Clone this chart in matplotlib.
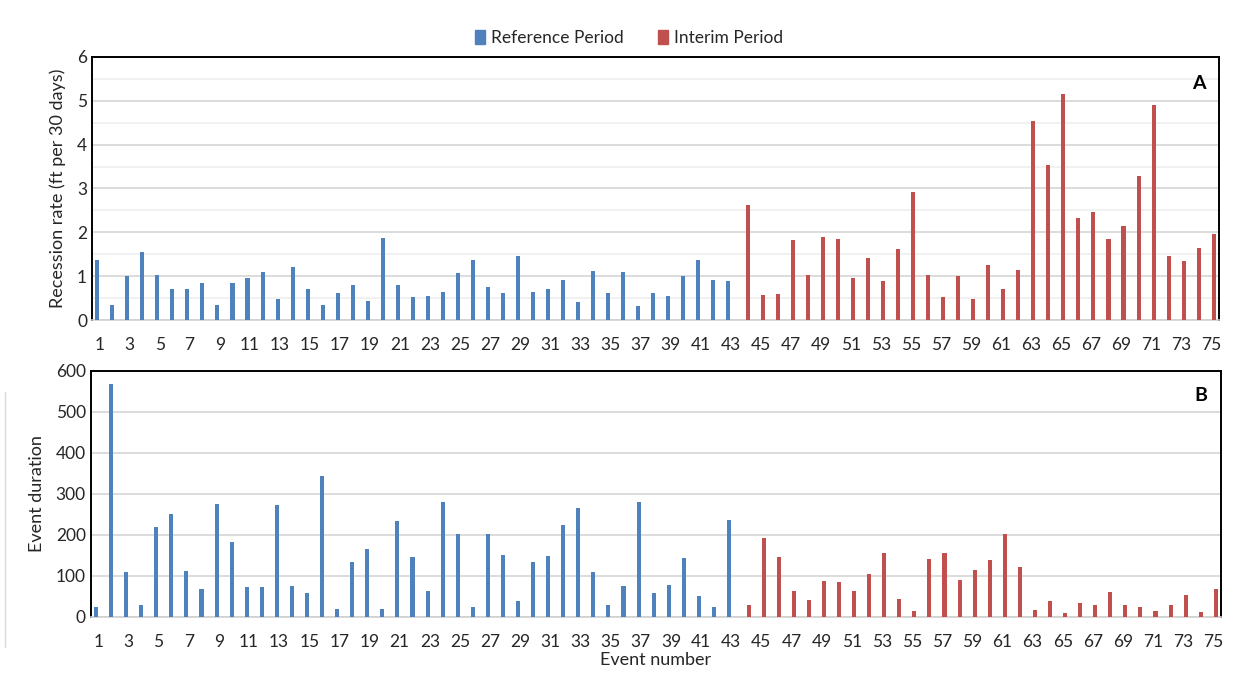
import matplotlib.pyplot as plt
import numpy as np
from matplotlib.lines import Line2D
from matplotlib.patches import Patch

plt.rcParams['font.family'] = ['Lato', 'DejaVu Sans']

# event numbers, split by period
ref_events = list(range(1, 44))
int_events = list(range(44, 76))

# recession rate (ft per 30 days)
ref_rate = [1.37, 0.35, 1.00, 1.55, 1.02, 0.70, 0.70, 0.85, 0.35, 0.85,
            0.95, 1.10, 0.48, 1.22, 0.70, 0.35, 0.62, 0.80, 0.43, 1.87,
            0.80, 0.53, 0.55, 0.65, 1.08, 1.37, 0.75, 0.62, 1.47, 0.65,
            0.70, 0.92, 0.40, 1.12, 0.62, 1.10, 0.32, 0.62, 0.55, 1.00,
            1.37, 0.92, 0.88]
int_rate = [2.62, 0.58, 0.60, 1.82, 1.02, 1.89, 1.85, 0.95, 1.42, 0.90,
            1.62, 2.92, 1.02, 0.52, 1.00, 0.48, 1.25, 0.70, 1.15, 4.55,
            3.54, 5.15, 2.32, 2.47, 1.85, 2.15, 3.28, 4.90, 1.45, 1.35,
            1.65, 1.97]

# event duration
ref_dur = [24, 568, 109, 28, 220, 251, 112, 69, 275, 183,
           72, 72, 273, 75, 59, 344, 20, 133, 165, 20,
           233, 146, 64, 281, 202, 24, 202, 151, 38, 133,
           149, 225, 265, 109, 30, 75, 281, 59, 78, 144,
           51, 24, 236]
int_dur = [28, 193, 146, 64, 41, 88, 86, 64, 104, 157,
           43, 14, 141, 157, 91, 114, 139, 202, 122, 17,
           38, 9, 33, 30, 60, 30, 24, 14, 28, 54,
           11, 69]

blue = '#4F81BD'
red = '#C0504D'
bar_w = 0.27
off = 0.15

fig = plt.figure(figsize=(12.38, 6.78), dpi=100)
ax_a = fig.add_axes([0.0743, 0.528, 0.9103, 0.388])
ax_b = fig.add_axes([0.0733, 0.0900, 0.9130, 0.3630])

ref_x = np.array(ref_events) - off
int_x = np.array(int_events) + off

ax_a.bar(ref_x, ref_rate, width=bar_w, color=blue, zorder=3)
ax_a.bar(int_x, int_rate, width=bar_w, color=red, zorder=3)
ax_b.bar(ref_x, ref_dur, width=bar_w, color=blue, zorder=3)
ax_b.bar(int_x, int_dur, width=bar_w, color=red, zorder=3)

odd_ticks = list(range(1, 76, 2))
for ax in (ax_a, ax_b):
    ax.set_xlim(0.5, 75.5)
    ax.set_xticks(odd_ticks)
    ax.set_xticklabels([str(t) for t in odd_ticks])
    ax.tick_params(axis='both', length=0, labelsize=12.5, colors='#262626')
    ax.tick_params(axis='x', pad=12)
    for s in ('left', 'top', 'right'):
        ax.spines[s].set_color('black')
        ax.spines[s].set_linewidth(1.4)
    ax.spines['bottom'].set_color('#d0d0d0')
    ax.spines['bottom'].set_linewidth(1.2)

ax_a.set_ylim(0, 6)
ax_a.set_yticks(range(0, 7))
ax_a.set_yticks(np.arange(0.5, 6, 1.0), minor=True)
ax_a.tick_params(axis='y', which='minor', length=0)
ax_a.grid(True, axis='y', which='major', color='#d9d9d9', linewidth=1.3, zorder=0)
ax_a.grid(True, axis='y', which='minor', color='#f0f0f0', linewidth=1.3, zorder=0)
ax_a.set_ylabel('Recession rate (ft per 30 days)', fontsize=13, color='#262626', labelpad=8)
ax_a.text(0.988, 0.9, 'A', transform=ax_a.transAxes, ha='right', va='center',
          fontsize=14, fontweight='bold')

ax_b.set_ylim(0, 600)
ax_b.set_yticks(range(0, 601, 100))
ax_b.grid(True, axis='y', color='#d9d9d9', linewidth=1.3, zorder=0)
ax_b.set_ylabel('Event duration', fontsize=13, color='#262626', labelpad=8)
ax_b.set_xlabel('Event number', fontsize=13, color='#262626', labelpad=2)
ax_b.text(0.988, 0.9, 'B', transform=ax_b.transAxes, ha='right', va='center',
          fontsize=14, fontweight='bold')

handles = [Patch(color=blue), Patch(color=red)]
fig.legend(handles, ['Reference Period', 'Interim Period'], loc='center',
           bbox_to_anchor=(0.508, 0.944), ncol=2, frameon=False, fontsize=12.5,
           handlelength=0.6, handleheight=0.9, handletextpad=0.3, columnspacing=2.0,
           labelcolor='#262626')

# thin stray line at the left edge
fig.add_artist(Line2D([0.004, 0.004], [0.045, 0.422], color='#d9d9d9', linewidth=1))

fig.savefig('out.png', dpi=100)
